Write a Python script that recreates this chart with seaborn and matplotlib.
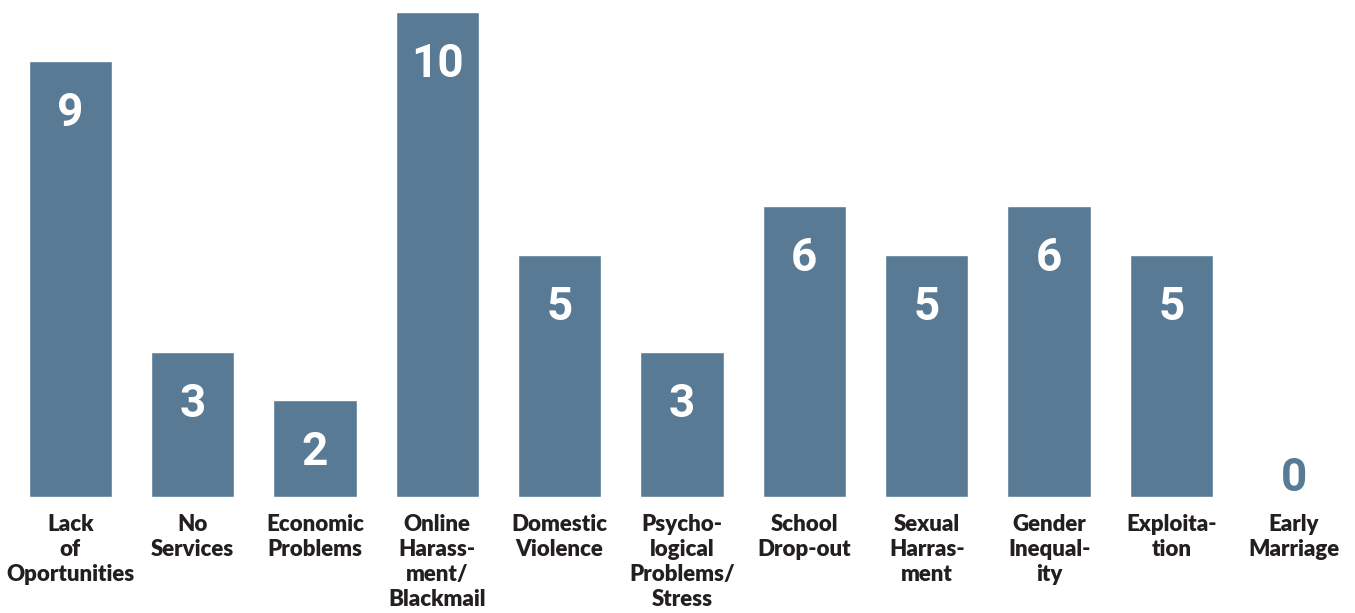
import matplotlib
matplotlib.use("Agg")
import matplotlib.pyplot as plt
import seaborn as sns
import pandas as pd

categories = [
    "Lack\nof\nOportunities",
    "No\nServices",
    "Economic\nProblems",
    "Online\nHarass-\nment/\nBlackmail",
    "Domestic\nViolence",
    "Psycho-\nlogical\nProblems/\nStress",
    "School\nDrop-out",
    "Sexual\nHarras-\nment",
    "Gender\nInequal-\nity",
    "Exploita-\ntion",
    "Early\nMarriage",
]
counts = [9, 3, 2, 10, 5, 3, 6, 5, 6, 5, 0]

bar_color = "#587a94"
label_color = "#231f20"

sns.set_theme(style="white")
plt.rcParams["font.family"] = ["Lato", "DejaVu Sans"]

df = pd.DataFrame({"issue": categories, "count": counts})

fig = plt.figure(figsize=(13.55, 6.13), dpi=100)
ax = fig.add_axes([9 / 1355, 1 - 497 / 613, 1346 / 1355, 485 / 613])

sns.barplot(data=df, x="issue", y="count", color=bar_color, saturation=1,
            width=0.68, ax=ax)

ax.set_ylim(0, 10)
ax.set_xlim(-0.5, len(categories) - 0.5)
ax.set_xlabel("")
ax.set_ylabel("")
ax.set_yticks([])
ax.tick_params(axis="x", length=0, pad=12)
ax.set_xticks(range(len(categories)))
ax.set_xticklabels(categories, fontsize=16, fontweight="heavy",
                   color=label_color, linespacing=1.25, va="top")
sns.despine(ax=ax, left=True, bottom=True)

num_font = dict(fontsize=33, fontweight="bold", family=["Roboto", "DejaVu Sans"])
for i, v in enumerate(counts):
    if v > 0:
        ax.text(i, v - 1.08, str(v), ha="center", va="center", color="white",
                **num_font)
    else:
        ax.text(i, 0.4, str(v), ha="center", va="center", color=bar_color,
                **num_font)

fig.savefig("out.png", dpi=100, facecolor="white")
